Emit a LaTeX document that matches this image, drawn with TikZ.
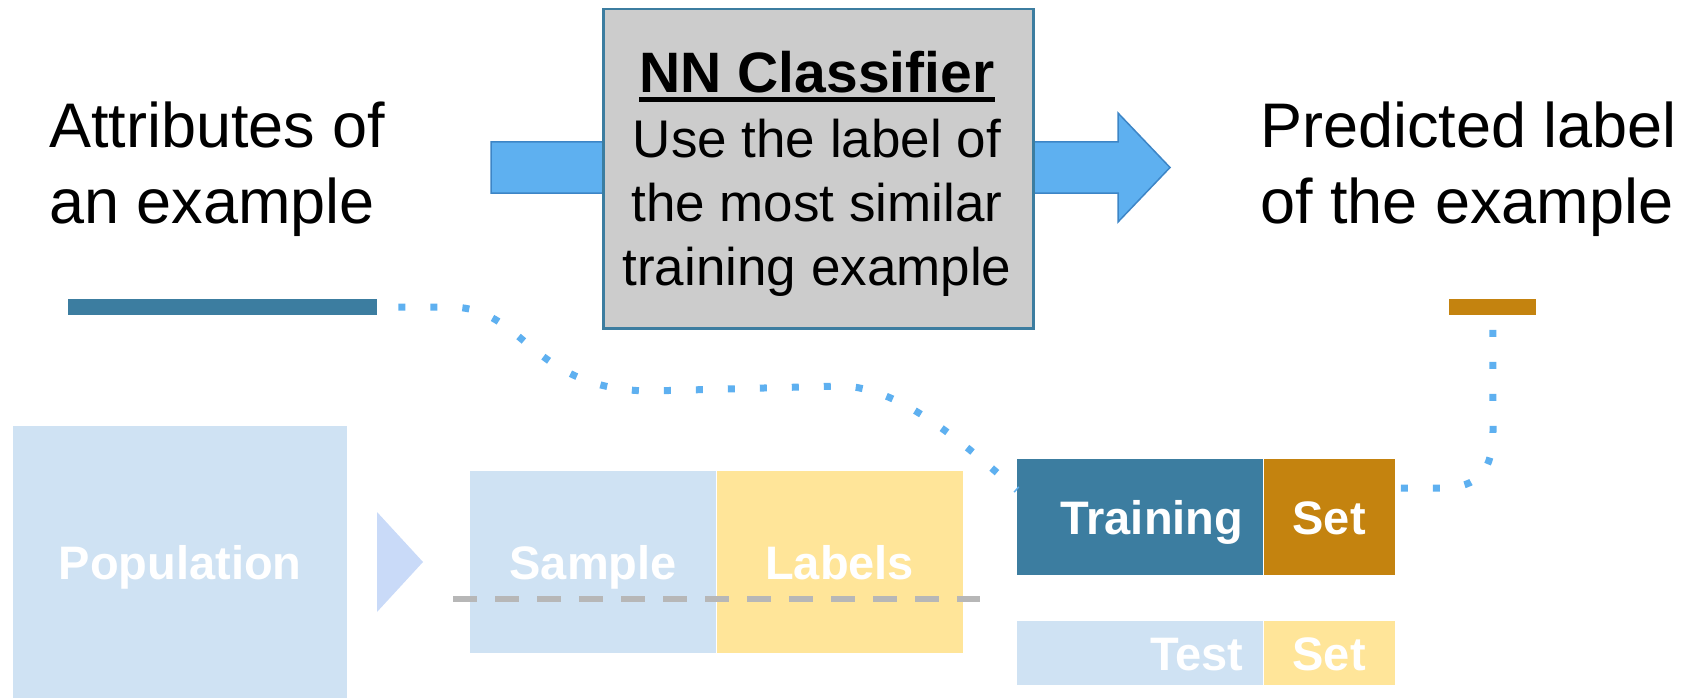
\documentclass[tikz,border=0pt]{standalone}
\usepackage{fontspec}
\setmainfont{Liberation Sans}
\usetikzlibrary{calc}
\definecolor{cTeal}{HTML}{3C7DA0}
\definecolor{cOrange}{HTML}{C4830F}
\definecolor{cPaleBlue}{HTML}{CFE2F3}
\definecolor{cPaleYellow}{HTML}{FFE599}
\definecolor{cArrow}{HTML}{5EB0F0}
\definecolor{cArrowEdge}{HTML}{3D85C6}
\definecolor{cBoxGray}{HTML}{CCCCCC}
\definecolor{cDash}{HTML}{B7B7B7}
\definecolor{cTri}{HTML}{C9DAF8}
\begin{document}
\begin{tikzpicture}[x=1pt,y=-1pt,
  bigtext/.style={font=\fontsize{63}{76}\selectfont, align=left, inner sep=0pt, anchor=base west},
  bodytext/.style={font=\fontsize{53}{64}\selectfont, align=center, inner sep=0pt, anchor=base},
  bar/.style={inner sep=0pt, minimum height=16pt, anchor=north west},
  block/.style={inner sep=0pt, anchor=north west, text=white,
    font=\fontsize{47}{56}\selectfont\bfseries, text height=34pt, text depth=0pt},
  dotline/.style={draw=cArrow, line width=7pt, dash pattern=on 7pt off 25pt},
]
\useasboundingbox (0,0) rectangle (1700,698);

% broad arrow running behind the classifier box
\draw[fill=cArrow, draw=cArrowEdge, line width=1.5pt]
  (491,142) -- (1118,142) -- (1118,113) -- (1170,167.5) -- (1118,222) -- (1118,193) -- (491,193) -- cycle;

% classifier box
\node[fill=cBoxGray, draw=cTeal, line width=2.5pt, anchor=north west,
      minimum width=430pt, minimum height=319pt, inner sep=0pt] (clf) at (602,8) {};
\node[font=\fontsize{57}{64}\selectfont\bfseries, inner sep=0pt, anchor=base] (ttl) at (817,93) {NN Classifier};
\draw[line width=5pt] ([yshift=-6.5pt]ttl.base west) -- ([yshift=-6.5pt]ttl.base east);
% base anchor of a multi-line node sits on its last line
\node[bodytext] (clfbody) at (817,285) {Use the label of\\the most similar\\training example};

% input and output captions
\node[bigtext] (attr) at (49,223) {Attributes of\\an example};
\node[bigtext] (pred) at (1260,223) {Predicted label\\of the example};

% attribute and label bars
\node[bar, fill=cTeal, minimum width=309pt] (attrbar) at (68,299) {};
\node[bar, fill=cOrange, minimum width=87pt] (predbar) at (1449,299) {};

% population, sample and labels
\node[block, fill=cPaleBlue, minimum width=334pt, minimum height=272pt] (pop) at (13,426) {Population};
\fill[cTri] (377,512) -- (423,562) -- (377,612) -- cycle;
\node[block, fill=cPaleBlue, minimum width=246pt, minimum height=182pt] (samp) at (470,471) {Sample};
\node[block, fill=cPaleYellow, minimum width=246pt, minimum height=182pt] (lbls) at (samp.north east) {Labels};
\draw[cDash, line width=6pt, dash pattern=on 24pt off 18pt] (453,599) -- (980,599);

% training and test sets
\node[block, fill=cTeal, minimum height=116pt, text width=206pt, align=right, inner xsep=20pt] (trn) at (1017,459) {Training};
\node[block, fill=cOrange, minimum width=131pt, minimum height=116pt] (trnset) at (trn.north east) {Set};
\node[block, fill=cPaleBlue, minimum height=64pt, text width=206pt, align=right, inner xsep=20pt] (tst) at (1017,621) {Test};
\node[block, fill=cPaleYellow, minimum width=131pt, minimum height=64pt] (tstset) at (tst.north east) {Set};

% dotted links
\draw[dotline, dash phase=11pt] (attrbar.east) -- (450,307)
  .. controls (525,307) and (530,390) .. (650,391) -- (840,386)
  .. controls (900,386) and (965,445) .. ($(trn.north west)+(0,31)$);
\draw[dotline, dash phase=26pt] ($(trnset.north east)+(0,29)$) -- (1440,488)
  .. controls (1480,488) and (1493,470) .. (1493,430) -- (predbar.south);
\end{tikzpicture}
\end{document}
